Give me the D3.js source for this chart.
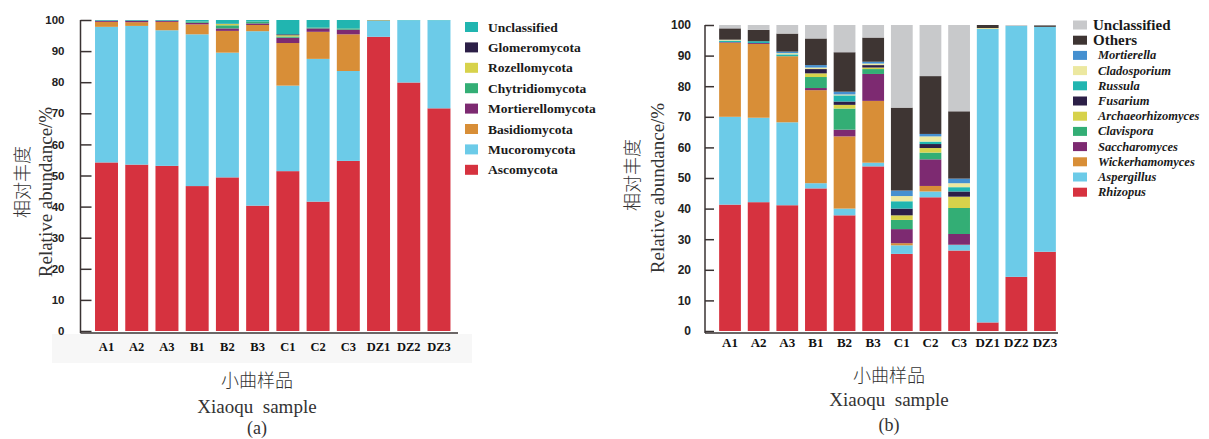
<!DOCTYPE html>
<html>
<head>
<meta charset="utf-8">
<script src="https://cdn.jsdelivr.net/npm/d3@7/dist/d3.min.js"></script>
<style>
  html, body { margin: 0; padding: 0; background: #fff; }
  svg { display: block; }
</style>
</head>
<body>
<svg id="chart" width="1209" height="439"></svg>
<script>
// Sample names shared by both panels
const samples = ["A1", "A2", "A3", "B1", "B2", "B3", "C1", "C2", "C3", "DZ1", "DZ2", "DZ3"];
const yTicks = [0, 10, 20, 30, 40, 50, 60, 70, 80, 90, 100];

// (a) phylum-level relative abundance (%)
const ascomycota        = [54.2, 53.5, 53.1, 46.6, 49.4, 40.3, 51.4, 41.6, 54.7, 94.6, 79.9, 71.6];
const mucoromycota      = [43.6, 44.6, 43.6, 48.8, 40.1, 56.1, 27.5, 45.9, 28.9, 5.1, 20.0, 28.3];
const basidiomycota     = [1.6, 1.2, 2.7, 3.2, 7.0, 2.0, 13.7, 8.7, 11.8, 0.2, 0.0, 0.0];
const mortierellomycota = [0.3, 0.4, 0.3, 0.5, 0.8, 0.5, 1.7, 1.1, 1.5, 0.0, 0.0, 0.0];
const chytridiomycota   = [0.0, 0.0, 0.0, 0.4, 1.0, 0.6, 0.4, 0.3, 0.4, 0.0, 0.0, 0.0];
const rozellomycota     = [0.0, 0.0, 0.0, 0.0, 0.4, 0.0, 0.4, 0.0, 0.0, 0.0, 0.0, 0.0];
const glomeromycota     = [0.1, 0.1, 0.1, 0.0, 0.1, 0.0, 0.3, 0.0, 0.0, 0.0, 0.0, 0.0];
const unclassifiedA     = [0.2, 0.2, 0.2, 0.5, 1.2, 0.5, 4.6, 2.4, 2.7, 0.1, 0.1, 0.1];

// (b) genus-level relative abundance (%)
const rhizopus          = [41.3, 42.1, 41.1, 46.6, 37.8, 53.8, 25.2, 43.7, 26.3, 2.8, 17.7, 25.9];
const aspergillus       = [28.7, 27.6, 27.1, 1.7, 2.2, 1.2, 2.8, 1.9, 1.8, 95.9, 82.0, 73.5];
const wickerhamomyces   = [24.2, 24.1, 21.6, 30.4, 23.6, 20.2, 0.7, 1.8, 0.1, 0.0, 0.0, 0.0];
const saccharomyces     = [0.2, 0.3, 0.0, 0.7, 2.2, 8.8, 4.6, 8.7, 3.5, 0.0, 0.0, 0.0];
const clavispora        = [0.0, 0.0, 0.0, 3.6, 6.9, 1.6, 3.0, 2.2, 8.5, 0.0, 0.0, 0.0];
const archaeorhizomyces = [0.0, 0.0, 0.0, 1.2, 1.2, 0.5, 1.5, 1.5, 3.7, 0.0, 0.0, 0.0];
const fusarium          = [0.0, 0.0, 0.0, 1.4, 1.1, 0.8, 2.2, 1.3, 1.7, 0.0, 0.0, 0.0];
const russula           = [0.5, 0.6, 0.6, 0.0, 2.0, 0.0, 2.4, 0.8, 1.4, 0.0, 0.0, 0.0];
const cladosporium      = [0.3, 0.0, 0.4, 0.5, 0.3, 0.5, 1.7, 1.7, 1.3, 0.3, 0.0, 0.0];
const mortierella       = [0.0, 0.0, 0.5, 0.8, 0.9, 0.6, 1.8, 0.8, 1.5, 0.0, 0.0, 0.0];
const others            = [3.7, 3.7, 5.9, 8.7, 12.9, 7.9, 27.1, 18.9, 22.0, 1.0, 0.0, 0.5];
const unclassifiedB     = [1.1, 1.6, 2.8, 4.4, 8.9, 4.1, 27.0, 16.7, 28.2, 0.0, 0.3, 0.1];

// Series in stacking order (bottom to top)
const phylumSeries = [
  { name: "Ascomycota", values: ascomycota, color: "#d6323f" },
  { name: "Mucoromycota", values: mucoromycota, color: "#6ccbe8" },
  { name: "Basidiomycota", values: basidiomycota, color: "#d88e37" },
  { name: "Mortierellomycota", values: mortierellomycota, color: "#7d2a71" },
  { name: "Chytridiomycota", values: chytridiomycota, color: "#33ae75" },
  { name: "Rozellomycota", values: rozellomycota, color: "#d7d24b" },
  { name: "Glomeromycota", values: glomeromycota, color: "#2c1f47" },
  { name: "Unclassified", values: unclassifiedA, color: "#21b5b0" }
];

const genusSeries = [
  { name: "Rhizopus", values: rhizopus, color: "#d6323f", italic: true },
  { name: "Aspergillus", values: aspergillus, color: "#6ccbe8", italic: true },
  { name: "Wickerhamomyces", values: wickerhamomyces, color: "#d88e37", italic: true },
  { name: "Saccharomyces", values: saccharomyces, color: "#7d2a71", italic: true },
  { name: "Clavispora", values: clavispora, color: "#33ae75", italic: true },
  { name: "Archaeorhizomyces", values: archaeorhizomyces, color: "#d7d24b", italic: true },
  { name: "Fusarium", values: fusarium, color: "#2c1f47", italic: true },
  { name: "Russula", values: russula, color: "#21b5b0", italic: true },
  { name: "Cladosporium", values: cladosporium, color: "#ece8a0", italic: true },
  { name: "Mortierella", values: mortierella, color: "#4590d0", italic: true },
  { name: "Others", values: others, color: "#3e3533", italic: false },
  { name: "Unclassified", values: unclassifiedB, color: "#c8c9cb", italic: false }
];

const svg = d3.select("#chart");
const axisColor = "#3a3333";

function drawPanel(cfg) {
  const g = svg.append("g");

  if (cfg.strip) {
    g.append("rect")
      .attr("x", cfg.strip.x).attr("y", cfg.strip.y)
      .attr("width", cfg.strip.w).attr("height", cfg.strip.h)
      .attr("fill", "#f7f7f7");
  }

  const x = d3.scaleBand()
    .domain(samples)
    .range(cfg.xRange)
    .paddingInner(0.24)
    .paddingOuter(0.12);

  const y = d3.scaleLinear().domain([0, 100]).range(cfg.yRange);

  // Build stacked layout from the named series
  const table = samples.map((s, i) => {
    const row = { sample: s };
    cfg.series.forEach(se => { row[se.name] = se.values[i]; });
    return row;
  });
  const stacked = d3.stack().keys(cfg.series.map(d => d.name))(table);

  g.append("g").selectAll("g")
    .data(stacked)
    .join("g")
    .attr("fill", (d, i) => cfg.series[i].color)
    .selectAll("rect")
    .data(d => d)
    .join("rect")
    .attr("x", d => x(d.data.sample))
    .attr("width", x.bandwidth())
    .attr("y", d => y(d[1]))
    .attr("height", d => Math.max(0, y(d[0]) - y(d[1])));

  // Left axis with inward ticks
  const yAxis = d3.axisLeft(y).tickValues(yTicks).tickSize(-cfg.tickLen).tickPadding(cfg.tickLen + 5);
  const ya = g.append("g").attr("transform", `translate(${cfg.axisX},0)`).call(yAxis);
  ya.select(".domain").remove();
  ya.selectAll(".tick line").attr("stroke", axisColor).attr("stroke-width", 1.5);
  ya.selectAll(".tick text")
    .attr("fill", "#222")
    .attr("font-family", "'Liberation Sans', Arial, sans-serif")
    .attr("font-weight", "bold")
    .attr("font-size", cfg.tickFont);

  // Axis lines
  g.append("line")
    .attr("x1", cfg.axisX).attr("x2", cfg.axisX)
    .attr("y1", y(100)).attr("y2", cfg.baseY)
    .attr("stroke", axisColor).attr("stroke-width", 1.5);
  g.append("line")
    .attr("x1", cfg.axisX).attr("x2", cfg.axisRight)
    .attr("y1", cfg.baseY).attr("y2", cfg.baseY)
    .attr("stroke", axisColor).attr("stroke-width", 1.5);

  // Category labels
  g.append("g").selectAll("text")
    .data(samples)
    .join("text")
    .attr("x", d => x(d) + x.bandwidth() / 2)
    .attr("y", cfg.catY)
    .attr("text-anchor", "middle")
    .attr("font-family", "'Liberation Serif', 'Times New Roman', serif")
    .attr("font-weight", "bold")
    .attr("font-size", cfg.catFont)
    .attr("fill", "#111")
    .text(d => d);

  // Y axis titles
  g.append("text")
    .attr("transform", `translate(${cfg.cnTitleX},${cfg.cnTitleY}) rotate(-90)`)
    .attr("text-anchor", "middle")
    .attr("dominant-baseline", "central")
    .attr("font-family", "'Noto Sans CJK SC', sans-serif")
    .attr("font-weight", 300)
    .attr("font-size", 18)
    .attr("fill", "#333")
    .text("相对丰度");
  g.append("text")
    .attr("transform", `translate(${cfg.enTitleX},${cfg.enTitleY}) rotate(-90)`)
    .attr("text-anchor", "middle")
    .attr("dominant-baseline", "central")
    .attr("font-family", "'Liberation Serif', 'Times New Roman', serif")
    .attr("font-size", 19)
    .attr("fill", "#333")
    .text("Relative abundance/%");

  // X axis titles and panel letter
  const xt = g.append("g").attr("text-anchor", "middle").attr("fill", "#333");
  xt.append("text")
    .attr("x", cfg.xTitleX).attr("y", cfg.xTitleY[0])
    .attr("font-family", "'Noto Sans CJK SC', sans-serif")
    .attr("font-weight", 300)
    .attr("font-size", 18)
    .attr("dominant-baseline", "central")
    .text("小曲样品");
  xt.append("text")
    .attr("x", cfg.xTitleX).attr("y", cfg.xTitleY[1])
    .attr("font-family", "'Liberation Serif', 'Times New Roman', serif")
    .attr("font-size", 19)
    .attr("dominant-baseline", "central")
    .style("white-space", "pre")
    .text("Xiaoqu  sample");
  xt.append("text")
    .attr("x", cfg.xTitleX).attr("y", cfg.xTitleY[2])
    .attr("font-family", "'Liberation Serif', 'Times New Roman', serif")
    .attr("font-size", 18)
    .attr("dominant-baseline", "central")
    .text(cfg.letter);

  // Legend, top entry first
  const legendItems = cfg.series.slice().reverse();
  const lg = g.append("g");
  legendItems.forEach((d, i) => {
    const ly = cfg.legend.y0 + i * cfg.legend.step;
    lg.append("rect")
      .attr("x", cfg.legend.x).attr("y", ly - cfg.legend.sh / 2)
      .attr("width", cfg.legend.sw).attr("height", cfg.legend.sh)
      .attr("fill", d.color);
    lg.append("text")
      .attr("x", cfg.legend.x + cfg.legend.sw + (d.italic ? cfg.legend.gapItalic : cfg.legend.gap))
      .attr("y", ly)
      .attr("dominant-baseline", "central")
      .attr("font-family", "'Liberation Serif', 'Times New Roman', serif")
      .attr("font-weight", "bold")
      .attr("font-style", d.italic ? "italic" : "normal")
      .attr("font-size", d.italic ? cfg.legend.fontItalic : cfg.legend.font)
      .attr("fill", "#1a1a1a")
      .text(d.name);
  });
}

drawPanel({
  series: phylumSeries,
  xRange: [91.4, 454.1],
  yRange: [331, 20],
  axisX: 80.5,
  axisRight: 458,
  baseY: 333,
  tickLen: 11,
  tickFont: 11.5,
  catY: 351,
  catFont: 12.5,
  strip: { x: 52, y: 334, w: 420, h: 29 },
  cnTitleX: 21, cnTitleY: 182,
  enTitleX: 45, enTitleY: 192,
  xTitleX: 257, xTitleY: [379, 406, 428],
  letter: "(a)",
  legend: { x: 465, y0: 27, step: 20.4, sw: 13, sh: 10, gap: 10, gapItalic: 10, font: 13.5, fontItalic: 13.5 }
});

drawPanel({
  series: genusSeries,
  xRange: [715.7, 1059.3],
  yRange: [331, 25],
  axisX: 705,
  axisRight: 1058,
  baseY: 333,
  tickLen: 9,
  tickFont: 12,
  catY: 347,
  catFont: 13,
  strip: null,
  cnTitleX: 631, cnTitleY: 175,
  enTitleX: 657, enTitleY: 188,
  xTitleX: 889, xTitleY: [374, 399, 425],
  letter: "(b)",
  legend: { x: 1073, y0: 25, step: 15.2, sw: 14, sh: 9, gap: 6, gapItalic: 11, font: 15, fontItalic: 12.5 }
});
</script>
</body>
</html>
